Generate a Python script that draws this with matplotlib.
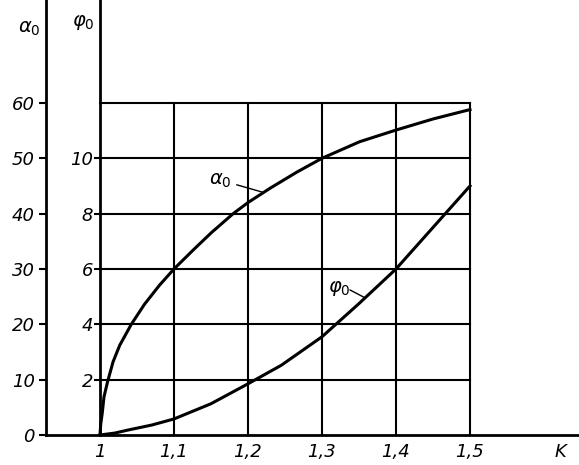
import matplotlib.pyplot as plt

# values
k_alpha = [1.0, 1.001, 1.003, 1.0054, 1.01, 1.0176, 1.0266, 1.0423, 1.06, 1.0806, 1.10,
           1.125, 1.15, 1.18, 1.20, 1.23, 1.266, 1.30, 1.351, 1.40, 1.45, 1.50]
alpha0 = [0, 2, 3.9, 6.9, 9.5, 13.2, 16.2, 20, 23.6, 27.1, 30,
          33.3, 36.5, 40, 42, 44.6, 47.5, 50, 53.0, 55.1, 57.1, 58.8]

k_phi = [1.0, 1.02, 1.038, 1.07, 1.10, 1.15, 1.20, 1.245, 1.30, 1.35, 1.40, 1.45, 1.50]
phi0 = [0, 0.07, 0.18, 0.36, 0.58, 1.13, 1.85, 2.52, 3.55, 4.75, 6.0, 7.5, 9.0]

k_ticks = [1.0, 1.1, 1.2, 1.3, 1.4, 1.5]
k_labels = ['1', '1,1', '1,2', '1,3', '1,4', '1,5']
alpha_ticks = [0, 10, 20, 30, 40, 50, 60]
phi_ticks = [2, 4, 6, 8, 10]

ymax = 78.6
fnt = dict(fontsize=13, fontstyle='italic')

fig = plt.figure(figsize=(5.79, 4.65), dpi=100)
ax = fig.add_axes([46 / 579, 30 / 465, 533 / 579, 435 / 465])
ax.set_xlim(0.92703, 1.6473)
ax.set_ylim(0, ymax)
ax.patch.set_alpha(0)

for s in ['top', 'right']:
    ax.spines[s].set_visible(False)
ax.spines['left'].set_linewidth(2)
ax.spines['bottom'].set_linewidth(2)

# grid
for a in alpha_ticks[1:]:
    ax.plot([1.0, 1.5], [a, a], color='black', lw=1.5)
for k in k_ticks[1:]:
    ax.plot([k, k], [0, 60], color='black', lw=1.5)

ax.plot(k_alpha, alpha0, color='black', lw=2.2, solid_joinstyle='round')

ax.set_yticks(alpha_ticks)
ax.set_yticklabels([str(a) for a in alpha_ticks], **fnt)
ax.tick_params(axis='y', direction='out', length=5, width=1.5, pad=3)
ax.set_xticks(k_ticks)
ax.set_xticklabels(k_labels, **fnt)
ax.tick_params(axis='x', length=0, pad=6)
ax.text(1.6216, -1.4, 'K', ha='center', va='top', **fnt)

# phi axis
ax2 = ax.twinx()
ax2.set_ylim(0, ymax / 5)
ax2.patch.set_alpha(0)
for s in ['top', 'right', 'bottom']:
    ax2.spines[s].set_visible(False)
ax2.spines['left'].set_position(('data', 1.0))
ax2.spines['left'].set_linewidth(2)
ax2.yaxis.set_ticks_position('left')
ax2.set_yticks(phi_ticks)
ax2.set_yticklabels([str(p) for p in phi_ticks], **fnt)
ax2.tick_params(axis='y', direction='out', length=4, width=1.5, pad=1)
ax2.plot(k_phi, phi0, color='black', lw=2.2, solid_joinstyle='round')

# axis titles
ax.text(0.904, 73.5, r'$\alpha_0$', ha='center', va='center', fontsize=14)
ax.text(0.977, 74.5, r'$\varphi_0$', ha='center', va='center', fontsize=14)

# curve labels with leader lines
ax.text(1.162, 45.9, r'$\alpha_0$', ha='center', va='center', fontsize=14)
ax.plot([1.185, 1.219], [45.2, 43.9], color='black', lw=1)
ax.text(1.324, 26.4, r'$\varphi_0$', ha='center', va='center', fontsize=14)
ax.plot([1.338, 1.358], [26.2, 24.8], color='black', lw=1)

plt.savefig('out.png', dpi=100)
